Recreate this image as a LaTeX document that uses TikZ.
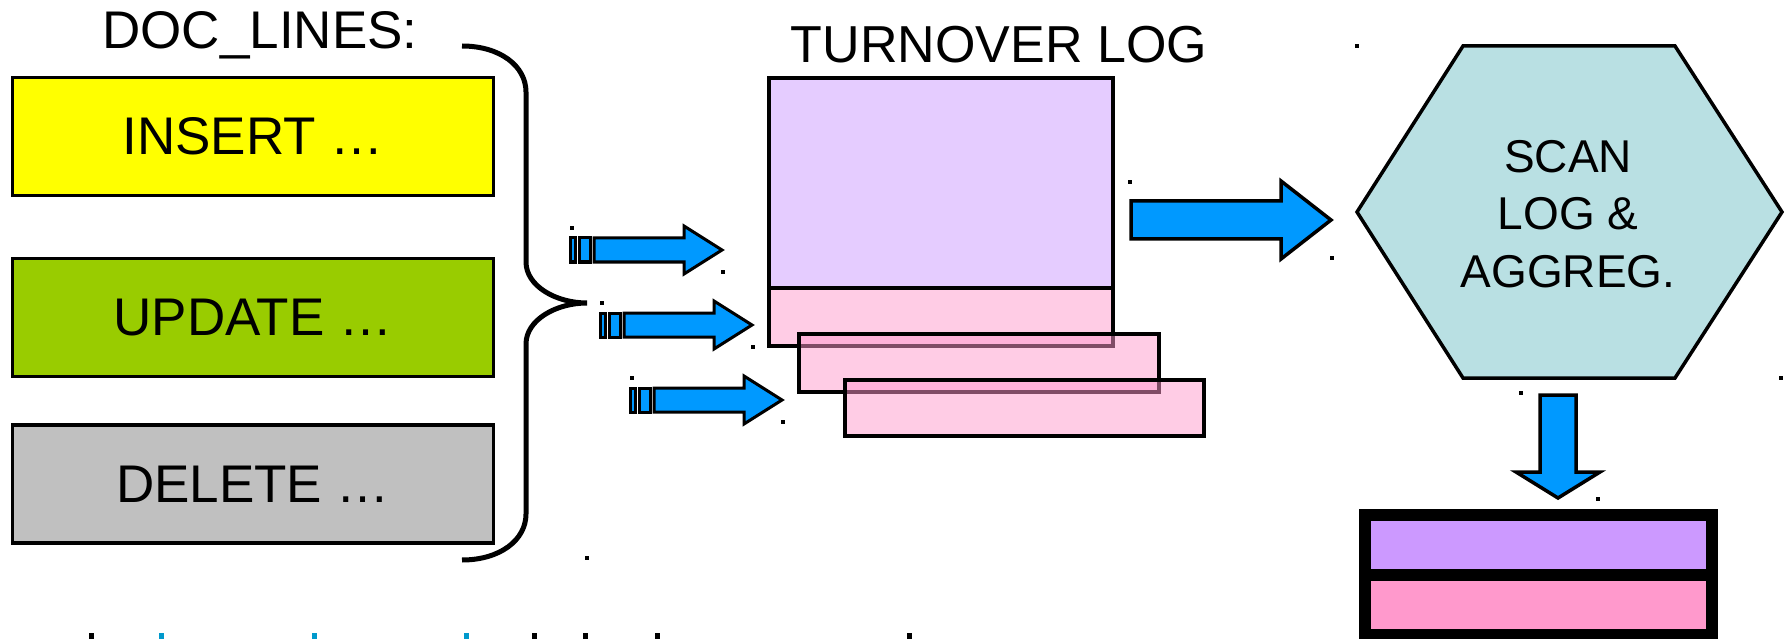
\documentclass[tikz,border=0pt]{standalone}
\usepackage{fontspec}
\setmainfont{Liberation Sans}
\definecolor{insertyellow}{HTML}{FFFF00}
\definecolor{updategreen}{HTML}{99CC00}
\definecolor{deletegray}{HTML}{C0C0C0}
\definecolor{logpurple}{HTML}{CC99FF}
\definecolor{logpink}{HTML}{FF99CC}
\definecolor{arrowblue}{HTML}{0099FF}
\definecolor{scanteal}{HTML}{B9E0E3}
\definecolor{textblue}{HTML}{0099CC}
\tikzset{
  opbox/.style={draw, line width=3.5pt, minimum width=481pt, minimum height=118pt, inner sep=0pt, font=\fontsize{53}{60}\selectfont},
  logbox/.style={draw, line width=3.5pt, fill opacity=0.5},
  blockarrow/.style={draw, line width=3pt, fill=arrowblue, line join=miter},
  stackbox/.style={draw, line width=12pt}
}
\begin{document}
\begin{tikzpicture}[x=1pt,y=-1pt]
\useasboundingbox (0,0) rectangle (1786,639);

% statements
\node[font=\fontsize{53}{60}\selectfont, anchor=base] (doclines) at (260,49) {DOC\_LINES:};
\node[opbox, fill=insertyellow] (insert) at (253,136.5) {INSERT …};
\node[opbox, fill=updategreen] (update) at (253,317.5) {UPDATE …};
\node[opbox, fill=deletegray] (delete) at (253,484) {DELETE …};

% brace
\draw[line width=5pt] (462,46) .. controls (500,46) and (526,66) .. (526,92) -- (526,262)
  .. controls (526,286) and (556,303) .. (587,303)
  .. controls (556,303) and (526,320) .. (526,344) -- (526,514)
  .. controls (526,540) and (500,560) .. (462,560);

% striped arrows
\foreach \x/\y in {569/250, 599/325, 629/400}{
  \draw[blockarrow] (\x+1.5,\y-12) rectangle (\x+6.5,\y+12);
  \draw[blockarrow] (\x+10.5,\y-12) rectangle (\x+21.5,\y+12);
  \draw[blockarrow] (\x+25,\y-12) -- (\x+115,\y-12) -- (\x+115,\y-24) -- (\x+153,\y)
    -- (\x+115,\y+24) -- (\x+115,\y+12) -- (\x+25,\y+12) -- cycle;
  \fill (\x+1,\y-24) rectangle +(4,4);
  \fill (\x+152,\y+20) rectangle +(4,4);
}

% turnover log
\node[font=\fontsize{52}{60}\selectfont, anchor=base] (logtitle) at (999,63) {TURNOVER LOG};
\draw[logbox, fill=logpurple] (769,78) rectangle (1113,288);
\draw[logbox, fill=logpink] (769,288) rectangle (1113,346);
\draw[logbox, fill=logpink] (799,334) rectangle (1159,392);
\draw[logbox, fill=logpink] (845,380) rectangle (1204,436);

% to scan
\draw[blockarrow, line width=3.5pt] (1131,201) -- (1281,201) -- (1281,181) -- (1331,220)
  -- (1281,259) -- (1281,239) -- (1131,239) -- cycle;
\fill (1128,180) rectangle +(4,4);
\fill (1330,256) rectangle +(4,4);

\draw[line width=3.5pt, fill=scanteal, line join=miter] (1357,212) -- (1463,46) -- (1675,46)
  -- (1782,212) -- (1675,378) -- (1463,378) -- cycle;
\node[align=center, font=\fontsize{46}{57.5}\selectfont] (scan) at (1568,214) {SCAN\\LOG \&\\AGGREG.};
\fill (1355,44) rectangle +(4,4);
\fill (1779,376) rectangle +(4,4);

% result
\draw[blockarrow, line width=3.5pt] (1540,395) -- (1576,395) -- (1576,472) -- (1600,472)
  -- (1558,498) -- (1516,472) -- (1540,472) -- cycle;
\fill (1519,391) rectangle +(4,4);
\fill (1596,497) rectangle +(4,4);
\draw[stackbox, fill=logpurple] (1365,515) rectangle (1712,575);
\draw[stackbox, fill=logpink] (1365,575) rectangle (1712,635);

\fill (585,556) rectangle +(4,4);

% cut-off line at the bottom
\foreach \x/\c in {91/black, 161/textblue, 314/textblue, 466/textblue, 534/black, 585/black, 657/black, 909/black}
  \fill[\c] (\x-2.5,633) rectangle (\x+2.5,639);
\end{tikzpicture}
\end{document}
